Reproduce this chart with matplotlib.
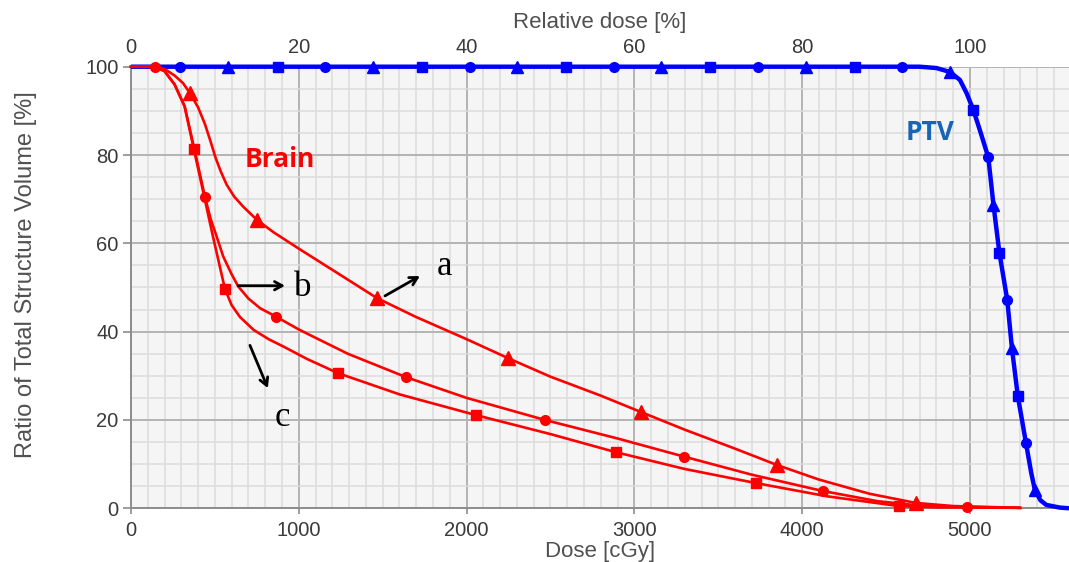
import matplotlib
matplotlib.use("Agg")
import matplotlib.pyplot as plt
from matplotlib.ticker import MultipleLocator

# ---------------- data ----------------
# Brain curve a (triangles)
brain_a_dose = [0, 140, 200, 260, 310, 352, 400, 441, 475, 505, 535, 570, 615, 669, 751, 850, 1000, 1200,
                1466, 1700, 2000, 2247, 2500, 2800, 3039, 3300, 3600, 3850, 4100, 4400, 4678, 4900, 5298]
brain_a_vol = [100, 100, 99.5, 98, 96.3, 94.0, 90.8, 87, 83, 79.3, 76.3, 73.3, 70.6, 68.3, 65.3, 62.5, 58.8, 54,
               47.6, 43.3, 38.3, 34.0, 29.8, 25.5, 21.8, 17.8, 13.5, 9.8, 6.5, 3.3, 1.2, 0.5, 0.1]
brain_a_mk_dose = [352, 751, 1466, 2247, 3039, 3850, 4678]
brain_a_mk_vol = [94.0, 65.3, 47.6, 34.0, 21.8, 9.8, 1.2]

# Brain curve b (circles)
brain_b_dose = [0, 140, 200, 260, 320, 380, 441, 475, 511, 550, 600, 640, 700, 770, 864, 1000, 1090, 1292,
                1639, 2000, 2467, 2900, 3296, 3700, 4124, 4450, 4700, 4982, 5298]
brain_b_vol = [100, 100, 99, 96, 91, 81, 70.5, 65.5, 61.5, 57, 53, 50.2, 47.5, 45.3, 43.4, 40.5, 38.8, 35,
               29.7, 25, 20.0, 15.8, 11.7, 7.6, 3.9, 1.6, 0.6, 0.3, 0.1]
brain_b_mk_dose = [143, 441, 864, 1639, 2467, 3296, 4124, 4982]
brain_b_mk_vol = [100, 70.5, 43.4, 29.7, 20.0, 11.7, 3.9, 0.3]

# Brain curve c (squares)
brain_c_dose = [0, 140, 200, 260, 320, 375, 420, 460, 489, 525, 560, 600, 650, 731, 820, 910, 1050, 1234,
                1600, 2056, 2500, 2890, 3300, 3725, 4150, 4577, 4800, 5298]
brain_c_vol = [100, 100, 99, 96, 91, 81.3, 73.5, 66.5, 61.5, 55.5, 49.7, 46, 43.3, 40.4, 38.3, 36.6, 33.8, 30.6,
               25.8, 21.1, 16.8, 12.7, 8.9, 5.7, 2.7, 0.5, 0.2, 0.1]
brain_c_mk_dose = [375, 560, 1234, 2056, 2890, 3725, 4577]
brain_c_mk_vol = [81.3, 49.7, 30.6, 21.1, 12.7, 5.7, 0.5]

# PTV curve (the three plans overlap)
ptv_dose = [0, 4700, 4800, 4881, 4940, 4980, 5020, 5060, 5109, 5140, 5175, 5222, 5250, 5285, 5334,
            5365, 5387, 5420, 5455, 5536, 5590]
ptv_vol = [100, 100, 99.7, 98.8, 97, 94, 90.2, 85.5, 79.5, 68.7, 57.9, 47.2, 36.2, 25.4, 14.7,
           8, 4.1, 1.8, 0.75, 0.15, 0]
ptv_a_mk_dose = [578, 1442, 2300, 3159, 4023, 4881, 5140, 5250, 5387]
ptv_a_mk_vol = [100, 100, 100, 100, 100, 98.8, 68.7, 36.2, 4.1]
ptv_b_mk_dose = [292, 1156, 2020, 2878, 3737, 4595, 5109, 5222, 5334]
ptv_b_mk_vol = [100, 100, 100, 100, 100, 100, 79.5, 47.2, 14.7]
ptv_c_mk_dose = [876, 1734, 2592, 3451, 4315, 5020, 5175, 5285]
ptv_c_mk_vol = [100, 100, 100, 100, 100, 90.2, 57.9, 25.4]

x_ticks = [0, 1000, 2000, 3000, 4000, 5000]
y_ticks = [0, 20, 40, 60, 80, 100]
rel_ticks = [0, 20, 40, 60, 80, 100]
prescription_dose = 5000  # 100 % relative dose

# ---------------- figure ----------------
plt.rcParams['font.family'] = ['Liberation Sans', 'DejaVu Sans']
fig = plt.figure(figsize=(10.69, 5.62), dpi=100)
ax = fig.add_axes([0.1225, 0.0956, 0.8775, 0.7857])
ax.set_facecolor('#f5f5f5')

ax.set_xlim(0, 5590)
ax.set_ylim(0, 100)
ax.xaxis.set_major_locator(MultipleLocator(1000))
ax.xaxis.set_minor_locator(MultipleLocator(100))
ax.yaxis.set_major_locator(MultipleLocator(20))
ax.yaxis.set_minor_locator(MultipleLocator(5))
ax.grid(which='minor', color='#dcdcdc', lw=1.1, zorder=0)
ax.grid(which='major', color='#b4b4b4', lw=1.4, zorder=0)
ax.set_axisbelow(True)

for s in ['top', 'right']:
    ax.spines[s].set_visible(False)
for s in ['left', 'bottom']:
    ax.spines[s].set_color('#8c8c8c')
    ax.spines[s].set_linewidth(1.4)

ax.set_xticks(x_ticks)
ax.set_yticks(y_ticks)
ax.tick_params(axis='both', which='minor', length=0)
ax.tick_params(axis='y', which='major', length=6, width=1.2, color='#8c8c8c', pad=3,
               labelsize=14.5, labelcolor='#3a3a3a')
ax.tick_params(axis='x', which='major', length=4, width=1.2, color='#8c8c8c', pad=5,
               labelsize=14.5, labelcolor='#3a3a3a')

ax.set_xlabel('Dose [cGy]', fontsize=16, color='#505050', labelpad=1)
ax.set_ylabel('Ratio of Total Structure Volume [%]', fontsize=17, color='#505050')
ax.yaxis.set_label_coords(-0.1, 0.53)

sec = ax.secondary_xaxis('top', functions=(lambda d: d / prescription_dose * 100,
                                             lambda r: r * prescription_dose / 100))
sec.set_xticks(rel_ticks)
sec.tick_params(axis='x', length=0, pad=7, labelsize=14.5, labelcolor='#3a3a3a')
sec.spines['top'].set_visible(False)
sec.set_xlabel('Relative dose [%]', fontsize=16, color='#505050', labelpad=7)

blue = '#0000ff'
red = '#ff0000'

# PTV
ax.plot(ptv_dose, ptv_vol, color=blue, lw=3.2, clip_on=False, zorder=3, solid_capstyle='butt')
ax.plot(ptv_a_mk_dose, ptv_a_mk_vol, ls='none', marker='^', ms=9, color=blue, clip_on=False, zorder=4)
ax.plot(ptv_b_mk_dose, ptv_b_mk_vol, ls='none', marker='o', ms=7, color=blue, clip_on=False, zorder=4)
ax.plot(ptv_c_mk_dose, ptv_c_mk_vol, ls='none', marker='s', ms=6.5, color=blue, clip_on=False, zorder=4)

# Brain
for d, v in [(brain_a_dose, brain_a_vol), (brain_b_dose, brain_b_vol), (brain_c_dose, brain_c_vol)]:
    ax.plot(d, v, color=red, lw=1.9, clip_on=False, zorder=5)
ax.plot(brain_a_mk_dose, brain_a_mk_vol, ls='none', marker='^', ms=10, color=red, clip_on=False, zorder=6)
ax.plot(brain_b_mk_dose, brain_b_mk_vol, ls='none', marker='o', ms=7, color=red, clip_on=False, zorder=6)
ax.plot(brain_c_mk_dose, brain_c_mk_vol, ls='none', marker='s', ms=7, color=red, clip_on=False, zorder=6)

# labels
ax.text(888, 79, 'Brain', color=red, fontsize=19, fontweight='bold', family=['Open Sans', 'DejaVu Sans'],
        ha='center', va='center', zorder=7)
ax.text(4762, 85, 'PTV', color='#1a64b4', fontsize=19, fontweight='bold', family=['Open Sans', 'DejaVu Sans'],
        ha='center', va='center', zorder=7)

serif = ['Liberation Serif', 'DejaVu Serif']
arrow_kw = dict(arrowstyle='->,head_length=0.55,head_width=0.3', color='black', lw=2.0,
                shrinkA=0, shrinkB=0)
ax.annotate('', xy=(1722, 52.6), xytext=(1514, 48.1), arrowprops=arrow_kw, zorder=8)
ax.text(1871, 54.8, 'a', family=serif, fontsize=25, ha='center', va='center', zorder=8)
ax.annotate('', xy=(918, 50.4), xytext=(639, 50.4), arrowprops=arrow_kw, zorder=8)
ax.text(1025, 50.0, 'b', family=serif, fontsize=25, ha='center', va='center', zorder=8)
ax.annotate('', xy=(816, 27.2), xytext=(709, 36.9), arrowprops=arrow_kw, zorder=8)
ax.text(900, 20.5, 'c', family=serif, fontsize=25, ha='center', va='center', zorder=8)

fig.savefig('out.png', dpi=100)
